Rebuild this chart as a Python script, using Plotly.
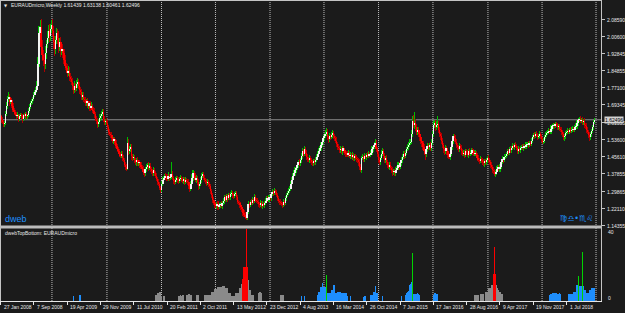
import pandas as pd
import plotly.graph_objects as go

# ---------------- data ----------------
symbol_title = "EURAUDmicro,Weekly"
last_ohlc = [1.61439, 1.63138, 1.60461, 1.62496]
first_open = 1.652
start_date = "2008-01-27"

# weekly closes in thousandths
close_k = [
    1640, 1625, 1615, 1605, 1610, 1650, 1690, 1720, 1730, 1705,
    1715, 1690, 1670, 1660, 1650, 1640, 1645, 1630, 1640, 1645,
    1640, 1630, 1645, 1640, 1650, 1640, 1645, 1665, 1685, 1700,
    1710, 1720, 1740, 1750, 1760, 1780, 1880, 2020, 2050, 1960,
    1920, 1900, 1880, 1930, 1970, 2000, 2030, 2010, 2040, 2060,
    2030, 1980, 1950, 1990, 2020, 2000, 1960, 1980, 1940, 1950,
    1930, 1900, 1870, 1860, 1840, 1850, 1820, 1810, 1800, 1780,
    1760, 1780, 1770, 1790, 1800, 1780, 1760, 1750, 1730, 1740,
    1720, 1715, 1700, 1710, 1690, 1700, 1680, 1690, 1670, 1665,
    1650, 1630, 1620, 1605, 1615, 1635, 1640, 1650, 1660, 1630,
    1615, 1620, 1610, 1590, 1570, 1560, 1555, 1540, 1530, 1535,
    1520, 1505, 1490, 1480, 1470, 1460, 1470, 1450, 1440, 1420,
    1410, 1400, 1520, 1480, 1490, 1500, 1460, 1450, 1455, 1440,
    1430, 1440, 1425, 1430, 1420, 1410, 1400, 1385, 1380, 1400,
    1410, 1420, 1405, 1415, 1400, 1390, 1380, 1395, 1380, 1370,
    1355, 1340, 1330, 1315, 1305, 1330, 1350, 1360, 1370, 1365,
    1355, 1370, 1360, 1365, 1375, 1360, 1345, 1340, 1350, 1360,
    1350, 1345, 1355, 1360, 1350, 1345, 1355, 1340, 1350, 1345,
    1340, 1320, 1310, 1330, 1360, 1380, 1370, 1350, 1360, 1340,
    1320, 1330, 1350, 1370, 1375, 1360, 1350, 1345, 1335, 1340,
    1330, 1320, 1300, 1280, 1260, 1245, 1235, 1230, 1240, 1225,
    1235, 1240, 1230, 1245, 1255, 1270, 1260, 1275, 1265, 1280,
    1270, 1285, 1290, 1280, 1275, 1285, 1290, 1270, 1250, 1245,
    1235, 1225, 1215, 1200, 1190, 1180, 1175, 1205, 1240, 1235,
    1250, 1245, 1260, 1255, 1270, 1260, 1255, 1250, 1240, 1235,
    1245, 1230, 1240, 1235, 1245, 1255, 1265, 1260, 1270, 1265,
    1285, 1295, 1290, 1300, 1295, 1280, 1265, 1255, 1250, 1245,
    1240, 1235, 1250, 1245, 1265, 1280, 1290, 1300, 1310, 1330,
    1350, 1370, 1380, 1395, 1405, 1420, 1430, 1425, 1440, 1460,
    1480, 1470, 1490, 1475, 1455, 1445, 1440, 1450, 1440, 1430,
    1425, 1435, 1430, 1440, 1455, 1470, 1480, 1495, 1510, 1525,
    1540, 1550, 1560, 1570, 1545, 1535, 1550, 1545, 1555, 1565,
    1550, 1540, 1530, 1515, 1500, 1495, 1485, 1490, 1480, 1495,
    1485, 1475, 1470, 1465, 1475, 1460, 1465, 1455, 1465, 1450,
    1460, 1450, 1445, 1440, 1430, 1410, 1395, 1450, 1455, 1445,
    1460, 1455, 1465, 1460, 1470, 1465, 1475, 1490, 1500, 1510,
    1520, 1490, 1470, 1440, 1430, 1450, 1470, 1480, 1460, 1440,
    1450, 1430, 1420, 1410, 1420, 1405, 1395, 1385, 1390, 1380,
    1395, 1405, 1420, 1410, 1425, 1440, 1455, 1470, 1460, 1475,
    1490, 1500, 1510, 1520, 1525, 1560, 1620, 1600, 1610, 1590,
    1570, 1580, 1560, 1545, 1530, 1520, 1500, 1480, 1470, 1490,
    1505, 1500, 1510, 1495, 1520, 1560, 1600, 1610, 1590, 1600,
    1605, 1580, 1560, 1550, 1530, 1510, 1490, 1480, 1495, 1480,
    1465, 1455, 1470, 1500, 1530, 1550, 1540, 1525, 1510, 1500,
    1490, 1505, 1495, 1480, 1470, 1475, 1465, 1480, 1475, 1465,
    1480, 1470, 1475, 1485, 1480, 1470, 1475, 1465, 1450, 1440,
    1435, 1445, 1440, 1430, 1425, 1435, 1430, 1440, 1450, 1440,
    1430, 1420, 1410, 1395, 1390, 1375, 1385, 1400, 1410, 1400,
    1410, 1430, 1445, 1440, 1455, 1460, 1470, 1480, 1475, 1490,
    1485, 1495, 1505, 1500, 1510, 1505, 1495, 1480, 1490, 1485,
    1495, 1500, 1495, 1505, 1500, 1510, 1515, 1510, 1520, 1515,
    1530, 1545, 1555, 1550, 1560, 1555, 1545, 1550, 1560, 1550,
    1535, 1525, 1530, 1545, 1555, 1565, 1570, 1575, 1570, 1585,
    1595, 1600, 1595, 1605, 1600, 1590, 1595, 1585, 1580, 1570,
    1560, 1545, 1550, 1565, 1570, 1575, 1570, 1580, 1575, 1580,
    1585, 1580, 1590, 1595, 1610, 1625, 1630, 1620, 1625, 1615,
    1620, 1600, 1595, 1580, 1570, 1555, 1545, 1560, 1575, 1590,
    1614, 1625,
]

# upper / lower wick lengths in thousandths
upper_wick_k = [
    12, 9, 14, 8, 11, 15, 18, 12, 22, 14,   10, 9, 12, 8, 11, 9, 14, 8, 10, 12,
    9, 12, 8, 11, 9, 12, 8, 14, 10, 9,   12, 10, 14, 12, 15, 22, 30, 35, 30, 35,
    30, 22, 27, 33, 22, 30, 27, 35, 22, 20,   27, 22, 30, 18, 27, 22, 30, 18, 22, 27,
    22, 18, 21, 15, 18, 22, 15, 18, 14, 16,   15, 21, 14, 18, 15, 12, 16, 14, 15, 12,
    14, 10, 15, 12, 14, 10, 12, 15, 9, 14,   12, 10, 14, 15, 12, 18, 10, 14, 15, 12,
    14, 10, 12, 15, 9, 12, 10, 14, 9, 12,   10, 14, 9, 12, 10, 9, 14, 10, 12, 9,
    10, 12, 25, 18, 14, 15, 12, 10, 14, 9,   12, 10, 14, 9, 12, 10, 9, 12, 14, 10,
    12, 9, 14, 10, 12, 9, 10, 14, 9, 12,   10, 9, 12, 10, 9, 14, 12, 10, 9, 12,
    10, 14, 9, 12, 55, 14, 10, 9, 12, 10,   9, 12, 10, 14, 9, 12, 10, 9, 12, 10,
    9, 12, 10, 14, 18, 15, 12, 10, 14, 9,   12, 10, 14, 12, 10, 9, 12, 10, 9, 14,
    10, 9, 12, 10, 9, 12, 10, 14, 9, 12,   10, 9, 12, 10, 14, 9, 12, 10, 9, 12,
    10, 9, 14, 10, 12, 9, 10, 9, 12, 10,   9, 12, 10, 9, 10, 12, 14, 15, 12, 10,
    9, 12, 10, 9, 14, 10, 9, 12, 10, 9,   12, 10, 14, 9, 10, 12, 9, 10, 12, 9,
    10, 12, 9, 14, 10, 9, 12, 10, 9, 12,   10, 9, 14, 10, 12, 9, 10, 12, 10, 14,
    12, 10, 14, 12, 10, 14, 12, 15, 10, 14,   16, 12, 15, 10, 12, 14, 10, 12, 9, 10,
    12, 9, 10, 14, 12, 10, 14, 12, 14, 12,   15, 14, 18, 17, 14, 12, 15, 10, 14, 12,
    10, 12, 9, 14, 10, 12, 9, 14, 10, 9,   12, 10, 9, 12, 10, 9, 14, 10, 12, 9,
    10, 9, 12, 10, 9, 14, 12, 10, 14, 9,   12, 10, 9, 12, 10, 9, 12, 14, 10, 12,
    15, 14, 12, 10, 14, 12, 15, 14, 10, 12,   10, 14, 9, 12, 10, 14, 9, 12, 10, 9,
    12, 10, 14, 12, 10, 14, 12, 10, 14, 12,   10, 14, 12, 15, 14, 18, 22, 25, 50, 18,
    15, 14, 12, 10, 14, 12, 10, 14, 12, 10,   14, 12, 10, 14, 15, 14, 18, 15, 14, 18,
    35, 14, 12, 10, 14, 12, 9, 10, 14, 12,   10, 9, 12, 15, 14, 12, 10, 14, 12, 10,
    9, 12, 10, 14, 9, 12, 10, 9, 12, 10,   9, 14, 10, 12, 9, 10, 12, 9, 10, 14,
    9, 12, 10, 9, 14, 10, 12, 9, 10, 12,   9, 10, 14, 9, 12, 10, 9, 12, 10, 9,
    12, 10, 14, 9, 12, 10, 9, 12, 10, 9,   14, 10, 12, 9, 10, 12, 9, 10, 14, 9,
    10, 9, 12, 10, 9, 12, 10, 14, 9, 10,   12, 9, 10, 12, 9, 14, 10, 9, 12, 10,
    9, 12, 10, 9, 12, 10, 9, 12, 10, 14,   12, 10, 9, 12, 10, 9, 12, 10, 9, 12,
    10, 9, 12, 10, 9, 12, 10, 9, 14, 10,   12, 9, 10, 14, 12, 10, 8, 10, 9, 12,
    10, 12, 9, 14, 10, 9, 12, 10, 9, 12,   10, 9,
]
lower_wick_k = [
    10, 14, 9, 15, 12, 9, 10, 14, 12, 18,   10, 12, 9, 14, 10, 12, 9, 15, 10, 9,
    12, 20, 10, 9, 14, 10, 12, 9, 10, 12,   9, 14, 10, 12, 9, 14, 12, 15, 18, 22,
    27, 30, 35, 22, 27, 18, 22, 30, 27, 18,   22, 30, 33, 22, 18, 27, 30, 22, 27, 18,
    21, 22, 18, 15, 19, 16, 18, 14, 15, 18,   19, 14, 16, 15, 18, 14, 15, 12, 16, 14,
    12, 15, 14, 10, 12, 15, 14, 10, 12, 14,   15, 12, 14, 18, 12, 10, 14, 12, 10, 15,
    12, 14, 10, 12, 15, 10, 14, 12, 10, 14,   12, 10, 14, 12, 15, 10, 12, 14, 10, 12,
    14, 10, 5, 15, 12, 14, 18, 12, 10, 14,   12, 15, 10, 12, 14, 10, 12, 14, 15, 10,
    12, 10, 14, 9, 12, 14, 10, 12, 14, 10,   12, 14, 10, 12, 14, 10, 9, 12, 10, 14,
    12, 10, 14, 9, 12, 10, 14, 12, 9, 10,   14, 12, 10, 9, 12, 10, 14, 12, 10, 9,
    14, 12, 15, 10, 12, 14, 10, 12, 14, 15,   18, 12, 10, 14, 12, 10, 9, 12, 14, 10,
    12, 14, 15, 12, 14, 10, 12, 9, 14, 12,   10, 14, 9, 12, 10, 14, 12, 10, 14, 9,
    12, 10, 9, 14, 12, 10, 9, 14, 12, 10,   14, 12, 10, 14, 12, 10, 10, 9, 12, 14,
    10, 12, 9, 14, 10, 12, 9, 10, 14, 12,   10, 9, 12, 10, 14, 9, 12, 10, 9, 12,
    10, 9, 12, 10, 14, 9, 12, 10, 14, 12,   10, 12, 9, 14, 10, 12, 9, 10, 12, 10,
    9, 12, 10, 14, 12, 10, 14, 12, 10, 12,   14, 15, 12, 14, 15, 12, 10, 14, 12, 10,
    12, 10, 14, 12, 10, 9, 12, 10, 14, 9,   10, 12, 9, 10, 14, 15, 12, 14, 10, 12,
    14, 12, 10, 14, 12, 10, 14, 12, 10, 14,   12, 10, 14, 12, 10, 12, 14, 10, 12, 14,
    12, 10, 14, 12, 15, 14, 9, 12, 10, 14,   12, 10, 14, 12, 9, 12, 10, 9, 12, 10,
    10, 14, 15, 14, 12, 14, 10, 12, 14, 15,   12, 14, 15, 12, 14, 12, 14, 15, 12, 14,
    14, 12, 10, 14, 12, 10, 12, 10, 14, 12,   10, 9, 12, 10, 9, 10, 12, 14, 15, 18,
    15, 14, 16, 15, 14, 18, 15, 16, 30, 15,   14, 12, 14, 15, 12, 10, 12, 14, 15, 14,
    14, 15, 14, 16, 15, 14, 15, 14, 12, 14,   15, 8, 14, 10, 12, 14, 15, 12, 14, 12,
    14, 12, 10, 14, 12, 10, 14, 12, 10, 12,   14, 12, 10, 12, 14, 10, 12, 14, 12, 10,
    12, 10, 14, 12, 10, 14, 12, 10, 12, 14,   12, 14, 12, 14, 15, 8, 10, 14, 12, 10,
    12, 10, 9, 12, 10, 9, 12, 10, 9, 12,   10, 12, 9, 10, 12, 9, 10, 12, 10, 9,
    12, 10, 9, 12, 10, 9, 10, 12, 9, 10,   12, 10, 9, 12, 10, 9, 12, 10, 9, 12,
    14, 12, 10, 12, 9, 10, 12, 9, 10, 9,   12, 10, 12, 9, 10, 12, 14, 10, 12, 14,
    12, 14, 15, 12, 10, 12, 10, 9, 12, 10,   9, 10, 12, 9, 10, 12, 10, 12, 10, 14,
    12, 14, 12, 14, 12, 14, 15, 12, 14, 12,   10, 12,
]

# dwebTopBottom histogram: (first week index, values)
gray_segments = [
    (149, [3.5, 3.5, 4.4, 4.4, 5.4, 5.0, 3.0, 0, 3.0, 3.0]),
    (171, [3.0, 3.0, 3.4, 3.0, 3.4, 3.4, 0, 0, 3.5, 3.5, 4.0, 4.0, 3.5, 3.5]),
    (188, [3.5, 3.5, 3.5]),
    (196, [3.5, 3.5, 3.5, 3.5]),
    (200, [3.5, 3.5, 3.5, 5.4, 5.4, 5.4, 7.0, 7.0, 7.0, 8.3, 8.3, 8.3, 8.3, 8.7, 8.7, 8.7,
           7.3, 7.3, 7.3, 4.4, 4.4, 4.4, 3.1, 3.1, 3.1, 3.1, 4.4, 4.4, 4.4, 4.4, 7.3, 7.3, 10.0]),
    (238, [12.0, 6.4, 6.4, 3.5, 3.5, 3.5]),
    (248, [4.5, 5.0, 5.0, 4.5]),
    (269, [3.5, 3.5, 3.5, 3.5]),
    (456, [3.5, 3.5, 3.5, 3.5, 0, 3.9, 3.9, 3.9, 3.9, 0, 5.4, 5.4, 5.4, 7.4, 7.4, 7.4, 9.3, 9.3]),
    (477, [9.3, 7.4, 6.4, 5.0, 3.9, 3.9]),
]
blue_segments = [
    (70, [3.0]),
    (76, [3.5, 3.5]),
    (289, [3.0]),
    (292, [3.0]),
    (305, [3.5, 5.4, 5.4, 8.1, 10.2, 8.0, 8.0, 8.0]),
    (314, [4.4, 4.4, 4.4, 4.4, 6.4, 6.4, 9.3, 9.3, 4.4, 4.4, 5.4, 5.0, 5.4, 5.0,
           4.4, 4.4, 4.4, 4.4, 4.4, 3.0]),
    (336, [3.0]),
    (349, [2.5, 3.0, 3.0]),
    (356, [3.5, 3.5, 5.4, 5.4, 8.5, 4.4, 4.4]),
    (367, [3.0]),
    (385, [3.0]),
    (389, [3.5, 4.4, 5.4, 6.0, 9.0, 10.0, 11.0]),
    (397, [4.0, 4.0, 4.0, 4.0, 4.4, 4.0, 3.5]),
    (416, [3.5, 4.4, 4.4, 4.0, 4.0]),
    (528, [3.5, 4.0, 4.6, 4.6, 4.4, 4.6, 4.4, 4.0, 4.0, 4.6, 4.0]),
    (546, [3.9, 3.9, 3.9, 3.9, 3.9, 5.4, 5.4, 5.4, 9.3, 0, 8.9, 8.9, 8.9, 0, 8.9,
           6.4, 6.4, 4.5, 4.5, 4.5, 6.4, 6.4, 7.7, 7.7, 7.7, 7.7]),
]
red_segments = [
    (233, [13.0, 20.0, 20.0, 41.7, 20.0]),
    (474, [15.5, 31.5, 15.5]),
]
green_segments = [
    (313, [15.0]),
    (396, [27.6]),
    (555, [14.7]),
    (559, [28.6]),
]

label_dates = ["2008-01-27", "2008-09-07", "2009-04-19", "2009-11-29", "2010-07-11",
               "2011-02-20", "2011-10-02", "2012-05-13", "2012-12-23", "2013-08-04",
               "2014-03-16", "2014-10-26", "2015-06-07", "2016-01-17", "2016-08-28",
               "2017-04-09", "2017-11-19", "2018-07-01"]
label_texts = ["27 Jan 2008", "7 Sep 2008", "19 Apr 2009", "29 Nov 2009", "11 Jul 2010",
               "20 Feb 2011", "2 Oct 2011", "13 May 2012", "23 Dec 2012", "4 Aug 2013",
               "16 Mar 2014", "26 Oct 2014", "7 Jun 2015", "17 Jan 2016", "28 Aug 2016",
               "9 Apr 2017", "19 Nov 2017", "1 Jul 2018"]
grid_dates = ["2009-01-07", "2010-01-12", "2011-01-14", "2012-01-12", "2013-01-13",
              "2014-01-11", "2015-01-13", "2016-01-14", "2017-01-18", "2018-01-17",
              "2019-01-15"]
price_ticks = [2.08590, 2.00600, 1.92845, 1.84855, 1.77100, 1.69345, 1.61355,
               1.53600, 1.45610, 1.37855, 1.29865, 1.22110, 1.14355]
sub_ticks = ["40", "0"]

# ---------------- layout constants ----------------
W, H = 625, 313
PLOT_R = 601.0          # right edge of chart area (px)
PXW = 1.0406            # px per weekly bar
MAIN_TOP, MAIN_BOT = 1.0, 226.0
SUB_TOP, SUB_BOT = 229.0, 301.0
BG = "#1b1b1b"
FG = "#e8e8e8"
BORDER = "#c4c4c4"
FONT = "Liberation Sans, Arial, sans-serif"

N = len(close_k)
assert len(upper_wick_k) == N and len(lower_wick_k) == N, (N, len(upper_wick_k), len(lower_wick_k))

dates = pd.date_range(start_date, periods=N, freq="7D")
d0 = pd.Timestamp(start_date)
t0 = d0 - pd.Timedelta(days=7 * 0.5 / PXW)
t1 = d0 + pd.Timedelta(days=7 * (PLOT_R - 0.5) / PXW)
WEEK_MS = 7 * 24 * 3600 * 1000
CANDLE_W = 1.3 * WEEK_MS
HIST_W = 1.0 * WEEK_MS

# price scale: 2.08590 at y=19px, 1.14355 at y=225px
p_per_px = (2.08590 - 1.14355) / (225 - 19)
y_hi = 2.08590 + (19 - MAIN_TOP) * p_per_px
y_lo = 2.08590 - (MAIN_BOT - 19) * p_per_px
sub_per_px = 40 / (SUB_BOT - 232)
sub_hi = (SUB_BOT - SUB_TOP) * sub_per_px

def py(p):
    return 1 - p / H

def px(p):
    return p / W

# ---------------- candles ----------------
up = dict(x=[], o=[], h=[], l=[], c=[])
dn = dict(x=[], o=[], h=[], l=[], c=[])
prev = first_open
for i in range(N):
    c = close_k[i] / 1000
    o = prev
    hi = max(o, c) + upper_wick_k[i] / 1000
    lo = min(o, c) - lower_wick_k[i] / 1000
    if i == N - 1:
        o, hi, lo, c = last_ohlc
    tgt = up if c >= o else dn
    tgt["x"].append(dates[i]); tgt["o"].append(o); tgt["h"].append(hi)
    tgt["l"].append(lo); tgt["c"].append(c)
    prev = c

def barset(xs, base, height, color, width, xa="x", ya="y"):
    return go.Bar(x=xs, y=height, base=base, width=[width] * len(xs),
                  marker=dict(color=color, line=dict(width=0)),
                  xaxis=xa, yaxis=ya, hoverinfo="skip", showlegend=False)

fig = go.Figure()
fig.add_trace(barset(dn["x"], dn["l"], [h - l for h, l in zip(dn["h"], dn["l"])],
                     "rgba(176,0,0,0.99)", HIST_W))
fig.add_trace(barset(up["x"], up["l"], [h - l for h, l in zip(up["h"], up["l"])],
                     "rgba(0,190,0,0.99)", HIST_W))
fig.add_trace(barset(dn["x"], [min(o, c) for o, c in zip(dn["o"], dn["c"])],
                     [abs(c - o) for o, c in zip(dn["o"], dn["c"])], "rgba(255,0,0,0.99)", CANDLE_W))
fig.add_trace(barset(up["x"], [min(o, c) for o, c in zip(up["o"], up["c"])],
                     [abs(c - o) for o, c in zip(up["o"], up["c"])], "rgba(245,245,245,0.99)", CANDLE_W))

# ---------------- histogram ----------------
def seg_xy(segments):
    xs, ys = [], []
    for s, vals in segments:
        for k, v in enumerate(vals):
            if v > 0:
                xs.append(dates[s + k]); ys.append(v)
    return xs, ys

for segs, col in [(gray_segments, "rgba(140,140,140,0.99)"),
                  (blue_segments, "rgba(30,144,255,0.99)"),
                  (red_segments, "rgba(255,0,0,0.99)"),
                  (green_segments, "rgba(0,215,0,0.99)")]:
    xs, ys = seg_xy(segs)
    fig.add_trace(barset(xs, [0] * len(xs), ys, col, HIST_W, "x2", "y2"))

# ---------------- shapes ----------------
shapes = []
for g in grid_dates:
    shapes.append(dict(type="line", xref="x", yref="paper", x0=g, x1=g,
                       y0=py(SUB_BOT), y1=py(MAIN_TOP), layer="below",
                       line=dict(color="#bdbdbd", width=1, dash="1px,1px")))
shapes.append(dict(type="line", xref="paper", yref="y", x0=0, x1=px(PLOT_R),
                   y0=last_ohlc[3], y1=last_ohlc[3], layer="below",
                   line=dict(color="#8c8c8c", width=1)))
# borders
shapes += [
    dict(type="line", xref="paper", yref="paper", x0=px(0.5), x1=px(0.5), y0=py(302), y1=py(0),
         line=dict(color=BORDER, width=1)),
    dict(type="line", xref="paper", yref="paper", x0=0, x1=px(PLOT_R + 0.5), y0=py(0.5), y1=py(0.5),
         line=dict(color=BORDER, width=1)),
    dict(type="line", xref="paper", yref="paper", x0=px(PLOT_R + 0.5), x1=px(PLOT_R + 0.5), y0=py(302), y1=py(0),
         line=dict(color=BORDER, width=1)),
    dict(type="rect", xref="paper", yref="paper", x0=0, x1=px(PLOT_R + 1), y0=py(228.5), y1=py(225.5),
         line=dict(width=0), fillcolor="#bcbcbc"),
    dict(type="line", xref="paper", yref="paper", x0=0, x1=px(PLOT_R + 1), y0=py(301.5), y1=py(301.5),
         line=dict(color="#e6e6e6", width=1)),
]

# ---------------- annotations ----------------
ann = []
small = dict(family=FONT, size=5, color=FG)
for d, t in zip(label_dates, label_texts):
    ann.append(dict(x=d, xref="x2", y=py(307.3), yref="paper", text=t, showarrow=False,
                    xanchor="left", yanchor="middle", xshift=1, font=small))
for p in price_ticks:
    ann.append(dict(x=px(605), xref="paper", y=p, yref="y", text=f"{p:.5f}", showarrow=False,
                    xanchor="left", yanchor="middle", yshift=-0.5, font=small))
ann.append(dict(x=px(604), xref="paper", y=last_ohlc[3], yref="y", text=f"{last_ohlc[3]:.5f}",
                showarrow=False, xanchor="left", yanchor="middle", bgcolor="#d2d2d2",
                borderpad=0, font=dict(family=FONT, size=5, color="#000000")))
ann.append(dict(x=px(606), xref="paper", y=py(231.5), yref="paper", text=sub_ticks[0],
                showarrow=False, xanchor="left", yanchor="middle", font=small))
ann.append(dict(x=px(606), xref="paper", y=py(298), yref="paper", text=sub_ticks[1],
                showarrow=False, xanchor="left", yanchor="middle", font=small))
ann.append(dict(x=px(2), xref="paper", y=py(5.3), yref="paper", text="▼", showarrow=False,
                xanchor="left", yanchor="middle", font=dict(family="DejaVu Sans", size=4, color=FG)))
ann.append(dict(x=px(8.5), xref="paper", y=py(5.3), yref="paper",
                text=symbol_title + " " + " ".join(f"{v:.5f}" for v in last_ohlc),
                showarrow=False, xanchor="left", yanchor="middle", font=small))
ann.append(dict(x=px(2.5), xref="paper", y=py(233), yref="paper", text="dwebTopBottom: EURAUDmicro",
                showarrow=False, xanchor="left", yanchor="middle", font=small))
ann.append(dict(x=px(2.5), xref="paper", y=py(218.5), yref="paper", text="dweb",
                showarrow=False, xanchor="left", yanchor="middle",
                font=dict(family=FONT, size=9, color="#1e90ff")))
ann.append(dict(x=px(595), xref="paper", y=py(218), yref="paper", text="♍♎•♏♌",
                showarrow=False, xanchor="right", yanchor="middle",
                font=dict(family="DejaVu Sans", size=8, color="#1e90ff")))

fig.update_layout(
    width=W, height=H, margin=dict(l=0, r=0, t=0, b=0),
    paper_bgcolor=BG, plot_bgcolor=BG, showlegend=False,
    barmode="overlay", bargap=0, bargroupgap=0,
    xaxis=dict(domain=[0, px(PLOT_R)], range=[t0, t1], type="date", anchor="y",
               showgrid=False, zeroline=False, showticklabels=False, ticks="", showline=False),
    yaxis=dict(domain=[py(MAIN_BOT), py(MAIN_TOP)], range=[y_lo, y_hi], anchor="x", side="right",
               showgrid=False, zeroline=False, showticklabels=False, tickvals=price_ticks,
               ticks="outside", ticklen=3, tickcolor=BORDER, showline=False),
    xaxis2=dict(domain=[0, px(PLOT_R)], range=[t0, t1], type="date", anchor="y2",
                showgrid=False, zeroline=False, showticklabels=False, tickvals=label_dates,
                ticks="outside", ticklen=3, tickcolor="#e6e6e6", showline=False),
    yaxis2=dict(domain=[py(SUB_BOT), py(SUB_TOP)], range=[0, sub_hi], anchor="x2", side="right",
                showgrid=False, zeroline=False, showticklabels=False, showline=False),
    shapes=shapes, annotations=ann,
)

fig.write_html("out.html")
